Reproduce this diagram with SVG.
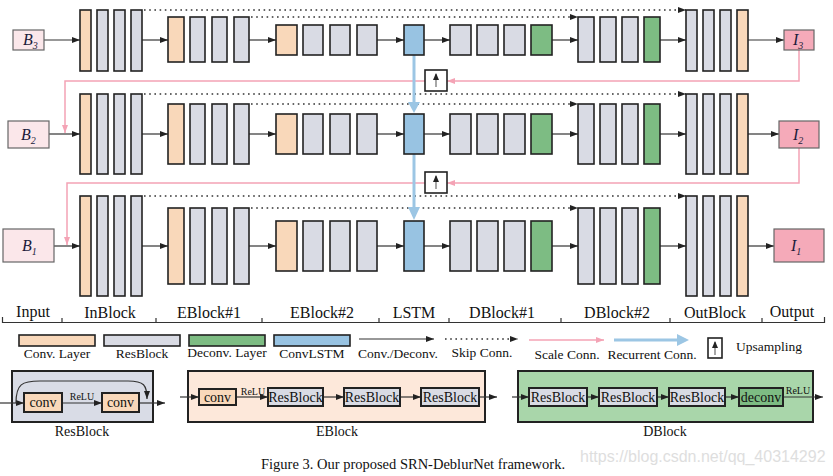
<svg xmlns="http://www.w3.org/2000/svg" width="833" height="476" viewBox="0 0 833 476">
<style>
.conv{fill:#f9d8ba;stroke:#222;stroke-width:1.6}
.res{fill:#d9dbe4;stroke:#222;stroke-width:1.6}
.dec{fill:#7dbc83;stroke:#222;stroke-width:1.6}
.lstm{fill:#98c3e2;stroke:#222;stroke-width:1.6}
.bin{fill:#fbe7ea;stroke:#666;stroke-width:1.2}
.iout{fill:#f5aab9;stroke:#666;stroke-width:1.2}
.conn{stroke:#333;stroke-width:1.2;fill:none;marker-end:url(#ah)}
.skip{stroke:#333;stroke-width:1.4;fill:none;stroke-dasharray:1.6 3.6;marker-end:url(#ah)}
.scale{stroke:#f4a3b5;stroke-width:1.5;fill:none}
.scalea{stroke:#f4a3b5;stroke-width:1.5;fill:none;marker-end:url(#ahp)}
.rec{stroke:#9cc6e4;stroke-width:3;fill:none}
.reca{fill:#9cc6e4}
.up{fill:#fff;stroke:#222;stroke-width:1.6}
.upl{stroke:#777;stroke-width:1.3;marker-end:url(#ahs)}
.t{font-family:"Liberation Serif","Times New Roman",serif;fill:#111}
.lab{font-size:16px;text-anchor:middle}
.leg{font-size:13.5px;text-anchor:middle}
.io{font-size:16px;font-style:italic;fill:#1c1c3a}
.sub{font-size:10px}
.box{font-size:14px;text-anchor:middle}
.relu{font-size:10px;text-anchor:middle}
.frame{stroke:#222;stroke-width:2}
.ib{stroke:#222;stroke-width:2}
</style>
<defs>
<marker id="ah" markerUnits="userSpaceOnUse" markerWidth="9" markerHeight="8" refX="8" refY="4" orient="auto"><path d="M0,1 L8,4 L0,7 Z" fill="#222"/></marker>
<marker id="ahs" markerUnits="userSpaceOnUse" markerWidth="8" markerHeight="8" refX="6" refY="3.5" orient="auto"><path d="M0,0.5 L7,3.5 L0,6.5 Z" fill="#222"/></marker>
<marker id="ahp" markerUnits="userSpaceOnUse" markerWidth="9" markerHeight="8" refX="8" refY="4" orient="auto"><path d="M0,1 L8,4 L0,7 Z" fill="#f4a3b5"/></marker>
</defs>
<rect width="833" height="476" fill="#fff"/>

<g id="connectors">
<!-- row 1 -->
<line class="conn" x1="44" y1="40" x2="80" y2="40"/>
<line class="conn" x1="142" y1="40" x2="168" y2="40"/>
<line class="conn" x1="249" y1="40" x2="276" y2="40"/>
<line class="conn" x1="377" y1="40" x2="404" y2="40"/>
<line class="conn" x1="424" y1="40" x2="450" y2="40"/>
<line class="conn" x1="552" y1="40" x2="578" y2="40"/>
<line class="conn" x1="660" y1="40" x2="686" y2="40"/>
<line class="conn" x1="748" y1="40" x2="784" y2="40"/>
<line class="skip" x1="144" y1="10" x2="686" y2="10"/>
<line class="skip" x1="251" y1="17" x2="578" y2="17"/>
<!-- row 2 -->
<line class="conn" x1="49" y1="134" x2="80" y2="134"/>
<line class="conn" x1="142" y1="134" x2="168" y2="134"/>
<line class="conn" x1="249" y1="134" x2="276" y2="134"/>
<line class="conn" x1="377" y1="134" x2="404" y2="134"/>
<line class="conn" x1="424" y1="134" x2="450" y2="134"/>
<line class="conn" x1="552" y1="134" x2="578" y2="134"/>
<line class="conn" x1="660" y1="134" x2="686" y2="134"/>
<line class="conn" x1="748" y1="134" x2="779" y2="134"/>
<line class="skip" x1="144" y1="94" x2="686" y2="94"/>
<line class="skip" x1="251" y1="104" x2="578" y2="104"/>
<!-- row 3 -->
<line class="conn" x1="54" y1="246" x2="80" y2="246"/>
<line class="conn" x1="142" y1="246" x2="168" y2="246"/>
<line class="conn" x1="249" y1="246" x2="276" y2="246"/>
<line class="conn" x1="377" y1="246" x2="404" y2="246"/>
<line class="conn" x1="424" y1="246" x2="450" y2="246"/>
<line class="conn" x1="552" y1="246" x2="578" y2="246"/>
<line class="conn" x1="660" y1="246" x2="686" y2="246"/>
<line class="conn" x1="748" y1="246" x2="774" y2="246"/>
<line class="skip" x1="144" y1="196" x2="686" y2="196"/>
<line class="skip" x1="251" y1="208" x2="578" y2="208"/>
<!-- scale connections -->
<path class="scalea" d="M799,50 V81 H447"/>
<path class="scalea" d="M425,81 H65 V133"/>
<path class="scalea" d="M799,148 V183 H447"/>
<path class="scalea" d="M425,183 H67 V245"/>
<!-- recurrent -->
<line class="rec" x1="414" y1="55" x2="414" y2="103"/>
<polygon class="reca" points="408,102 420,102 414,113"/>
<line class="rec" x1="414" y1="154" x2="414" y2="208"/>
<polygon class="reca" points="408,207 420,207 414,220"/>
</g>

<g id="up1"><rect class="up" x="425" y="70" width="22" height="21"/><line class="upl" x1="436" y1="87" x2="436" y2="74"/></g>
<g id="up2"><rect class="up" x="425" y="172" width="22" height="21"/><line class="upl" x1="436" y1="189" x2="436" y2="176"/></g>

<!-- Row 1 -->
<g id="B3"><rect class="bin" x="13" y="30" width="31" height="20"/><text class="t io" x="23" y="45">B<tspan class="sub" dy="4">3</tspan></text></g>
<g id="r1-inblock"><rect class="conv" x="80" y="10" width="11" height="61"/><rect class="res" x="97" y="10" width="11" height="61"/><rect class="res" x="114" y="10" width="11" height="61"/><rect class="res" x="131" y="10" width="11" height="61"/></g>
<g id="r1-eblock1"><rect class="conv" x="168" y="17" width="16" height="45"/><rect class="res" x="190" y="17" width="15" height="45"/><rect class="res" x="212" y="17" width="15" height="45"/><rect class="res" x="234" y="17" width="15" height="45"/></g>
<g id="r1-eblock2"><rect class="conv" x="276" y="25" width="21" height="30"/><rect class="res" x="303" y="25" width="20" height="30"/><rect class="res" x="330" y="25" width="20" height="30"/><rect class="res" x="357" y="25" width="20" height="30"/></g>
<g id="r1-lstm"><rect class="lstm" x="404" y="25" width="20" height="30"/></g>
<g id="r1-dblock1"><rect class="res" x="450" y="25" width="21" height="30"/><rect class="res" x="477" y="25" width="21" height="30"/><rect class="res" x="504" y="25" width="21" height="30"/><rect class="dec" x="531" y="25" width="21" height="30"/></g>
<g id="r1-dblock2"><rect class="res" x="578" y="17" width="16" height="45"/><rect class="res" x="600" y="17" width="16" height="45"/><rect class="res" x="622" y="17" width="16" height="45"/><rect class="dec" x="644" y="17" width="16" height="45"/></g>
<g id="r1-outblock"><rect class="res" x="686" y="10" width="11" height="61"/><rect class="res" x="703" y="10" width="11" height="61"/><rect class="res" x="720" y="10" width="11" height="61"/><rect class="conv" x="737" y="10" width="11" height="61"/></g>
<g id="I3"><rect class="iout" x="784" y="30" width="30" height="20"/><text class="t io" x="793" y="45">I<tspan class="sub" dy="4">3</tspan></text></g>

<!-- Row 2 -->
<g id="B2"><rect class="bin" x="8" y="121" width="41" height="27"/><text class="t io" x="21" y="140">B<tspan class="sub" dy="4">2</tspan></text></g>
<g id="r2-inblock"><rect class="conv" x="80" y="94" width="11" height="80"/><rect class="res" x="97" y="94" width="11" height="80"/><rect class="res" x="114" y="94" width="11" height="80"/><rect class="res" x="131" y="94" width="11" height="80"/></g>
<g id="r2-eblock1"><rect class="conv" x="168" y="104" width="16" height="60"/><rect class="res" x="190" y="104" width="15" height="60"/><rect class="res" x="212" y="104" width="15" height="60"/><rect class="res" x="234" y="104" width="15" height="60"/></g>
<g id="r2-eblock2"><rect class="conv" x="276" y="114" width="21" height="40"/><rect class="res" x="303" y="114" width="20" height="40"/><rect class="res" x="330" y="114" width="20" height="40"/><rect class="res" x="357" y="114" width="20" height="40"/></g>
<g id="r2-lstm"><rect class="lstm" x="404" y="114" width="20" height="40"/></g>
<g id="r2-dblock1"><rect class="res" x="450" y="114" width="21" height="40"/><rect class="res" x="477" y="114" width="21" height="40"/><rect class="res" x="504" y="114" width="21" height="40"/><rect class="dec" x="531" y="114" width="21" height="40"/></g>
<g id="r2-dblock2"><rect class="res" x="578" y="104" width="16" height="60"/><rect class="res" x="600" y="104" width="16" height="60"/><rect class="res" x="622" y="104" width="16" height="60"/><rect class="dec" x="644" y="104" width="16" height="60"/></g>
<g id="r2-outblock"><rect class="res" x="686" y="94" width="11" height="80"/><rect class="res" x="703" y="94" width="11" height="80"/><rect class="res" x="720" y="94" width="11" height="80"/><rect class="conv" x="737" y="94" width="11" height="80"/></g>
<g id="I2"><rect class="iout" x="779" y="121" width="40" height="27"/><text class="t io" x="793" y="140">I<tspan class="sub" dy="4">2</tspan></text></g>

<!-- Row 3 -->
<g id="B1"><rect class="bin" x="3" y="229" width="51" height="33"/><text class="t io" x="22" y="251">B<tspan class="sub" dy="4">1</tspan></text></g>
<g id="r3-inblock"><rect class="conv" x="80" y="196" width="11" height="100"/><rect class="res" x="97" y="196" width="11" height="100"/><rect class="res" x="114" y="196" width="11" height="100"/><rect class="res" x="131" y="196" width="11" height="100"/></g>
<g id="r3-eblock1"><rect class="conv" x="168" y="208" width="16" height="76"/><rect class="res" x="190" y="208" width="15" height="76"/><rect class="res" x="212" y="208" width="15" height="76"/><rect class="res" x="234" y="208" width="15" height="76"/></g>
<g id="r3-eblock2"><rect class="conv" x="276" y="221" width="21" height="50"/><rect class="res" x="303" y="221" width="20" height="50"/><rect class="res" x="330" y="221" width="20" height="50"/><rect class="res" x="357" y="221" width="20" height="50"/></g>
<g id="r3-lstm"><rect class="lstm" x="404" y="221" width="20" height="50"/></g>
<g id="r3-dblock1"><rect class="res" x="450" y="221" width="21" height="50"/><rect class="res" x="477" y="221" width="21" height="50"/><rect class="res" x="504" y="221" width="21" height="50"/><rect class="dec" x="531" y="221" width="21" height="50"/></g>
<g id="r3-dblock2"><rect class="res" x="578" y="208" width="16" height="76"/><rect class="res" x="600" y="208" width="16" height="76"/><rect class="res" x="622" y="208" width="16" height="76"/><rect class="dec" x="644" y="208" width="16" height="76"/></g>
<g id="r3-outblock"><rect class="res" x="686" y="196" width="11" height="100"/><rect class="res" x="703" y="196" width="11" height="100"/><rect class="res" x="720" y="196" width="11" height="100"/><rect class="conv" x="737" y="196" width="11" height="100"/></g>
<g id="I1"><rect class="iout" x="774" y="229" width="50" height="33"/><text class="t io" x="791" y="251">I<tspan class="sub" dy="4">1</tspan></text></g>

<!-- stage labels -->
<g id="stage-labels">
<path d="M2.5,317 V322.5 H824.5 V317 M62,318 V322.5 M156,318 V322.5 M262,318 V322.5 M379,318 V322.5 M449,318 V322.5 M561,318 V322.5 M670,318 V322.5 M762,318 V322.5" stroke="#333" stroke-width="1.2" fill="none"/>
<text class="t lab" x="33" y="317">Input</text>
<text class="t lab" x="110" y="318">InBlock</text>
<text class="t lab" x="209" y="318">EBlock#1</text>
<text class="t lab" x="322" y="318">EBlock#2</text>
<text class="t lab" x="414" y="318">LSTM</text>
<text class="t lab" x="502" y="318">DBlock#1</text>
<text class="t lab" x="617" y="318">DBlock#2</text>
<text class="t lab" x="715" y="318">OutBlock</text>
<text class="t lab" x="792" y="317">Output</text>
</g>

<!-- legend -->
<g id="legend">
<rect class="conv" x="19" y="335" width="76" height="11"/><text class="t leg" x="57" y="358">Conv. Layer</text>
<rect class="res" x="104" y="335" width="76" height="11"/><text class="t leg" x="142" y="358">ResBlock</text>
<rect class="dec" x="189" y="335" width="76" height="11"/><text class="t leg" x="227" y="357">Deconv. Layer</text>
<rect class="lstm" x="274" y="335" width="76" height="11"/><text class="t leg" x="312" y="358">ConvLSTM</text>
<line class="conn" x1="359" y1="339" x2="434" y2="339"/><text class="t leg" x="398" y="358">Conv./Deconv.</text>
<line class="skip" x1="445" y1="339" x2="518" y2="339"/><text class="t leg" x="482" y="357">Skip Conn.</text>
<line class="scalea" x1="529" y1="340" x2="604" y2="340"/><text class="t leg" x="567" y="359">Scale Conn.</text>
<line class="rec" x1="614" y1="340" x2="678" y2="340"/><polygon class="reca" points="677,334 689,340 677,346"/><text class="t leg" x="652" y="359">Recurrent Conn.</text>
<rect class="up" x="708" y="338" width="14" height="20"/><line class="upl" x1="715" y1="355" x2="715" y2="342"/>
<text class="t leg" x="736" y="351" text-anchor="start" style="text-anchor:start">Upsampling</text>
</g>

<!-- ResBlock detail -->
<g id="resblock-detail">
<rect class="frame" x="12" y="371" width="141" height="51" fill="#d9dce6"/>
<line class="conn" x1="0" y1="403" x2="24" y2="403"/>
<line class="conn" x1="62" y1="403" x2="102" y2="403"/>
<line class="conn" x1="139" y1="403" x2="165" y2="403"/>
<path class="conn" d="M16,403 C16,384 22,381 40,381 L128,381 C144,381 147,385 147,399"/>
<rect class="ib" x="24" y="393" width="38" height="19" fill="#f9d8ba"/><text class="t box" x="43" y="407">conv</text>
<rect class="ib" x="102" y="393" width="37" height="19" fill="#f9d8ba"/><text class="t box" x="120.5" y="407">conv</text>
<text class="t relu" x="82" y="400">ReLU</text>
<text class="t box" x="82" y="436" style="font-size:14px">ResBlock</text>
</g>

<!-- EBlock detail -->
<g id="eblock-detail">
<rect class="frame" x="188" y="371" width="297" height="51" fill="#fde8da"/>
<line class="conn" x1="180" y1="397" x2="199" y2="397"/>
<line class="conn" x1="236" y1="397" x2="268" y2="397"/>
<line class="conn" x1="323" y1="397" x2="344" y2="397"/>
<line class="conn" x1="400" y1="397" x2="421" y2="397"/>
<line class="conn" x1="479" y1="397" x2="497" y2="397"/>
<rect class="ib" x="199" y="389" width="37" height="16" fill="#f9d8ba"/><text class="t box" x="217.5" y="402">conv</text>
<text class="t relu" x="253" y="395">ReLU</text>
<rect class="ib" x="268" y="388" width="55" height="18" fill="#d9dbe4"/><text class="t box" x="295.5" y="402">ResBlock</text>
<rect class="ib" x="344" y="388" width="56" height="18" fill="#d9dbe4"/><text class="t box" x="372" y="402">ResBlock</text>
<rect class="ib" x="421" y="388" width="58" height="18" fill="#d9dbe4"/><text class="t box" x="450" y="402">ResBlock</text>
<text class="t box" x="337" y="436">EBlock</text>
</g>

<!-- DBlock detail -->
<g id="dblock-detail">
<rect class="frame" x="518" y="371" width="295" height="51" fill="#a9d6aa"/>
<line class="conn" x1="512" y1="397" x2="529" y2="397"/>
<line class="conn" x1="587" y1="397" x2="599" y2="397"/>
<line class="conn" x1="657" y1="397" x2="669" y2="397"/>
<line class="conn" x1="725" y1="397" x2="739" y2="397"/>
<line class="conn" x1="783" y1="397" x2="823" y2="397"/>
<rect class="ib" x="529" y="388" width="58" height="18" fill="#d9dbe4"/><text class="t box" x="558" y="402">ResBlock</text>
<rect class="ib" x="599" y="388" width="58" height="18" fill="#d9dbe4"/><text class="t box" x="628" y="402">ResBlock</text>
<rect class="ib" x="669" y="388" width="56" height="18" fill="#d9dbe4"/><text class="t box" x="697" y="402">ResBlock</text>
<rect class="ib" x="739" y="388" width="44" height="18" fill="#7dbc83"/><text class="t box" x="761" y="402">deconv</text>
<text class="t relu" x="798" y="394">ReLU</text>
<text class="t box" x="665" y="436">DBlock</text>
</g>

<text class="t" x="413" y="469" text-anchor="middle" font-size="14.5">Figure 3. Our proposed SRN-DeblurNet framework.</text>
<text x="580" y="462" font-family="Liberation Sans, Arial, sans-serif" font-size="16" fill="#dedede">https://blog.csdn.net/qq_40314292</text>
</svg>
